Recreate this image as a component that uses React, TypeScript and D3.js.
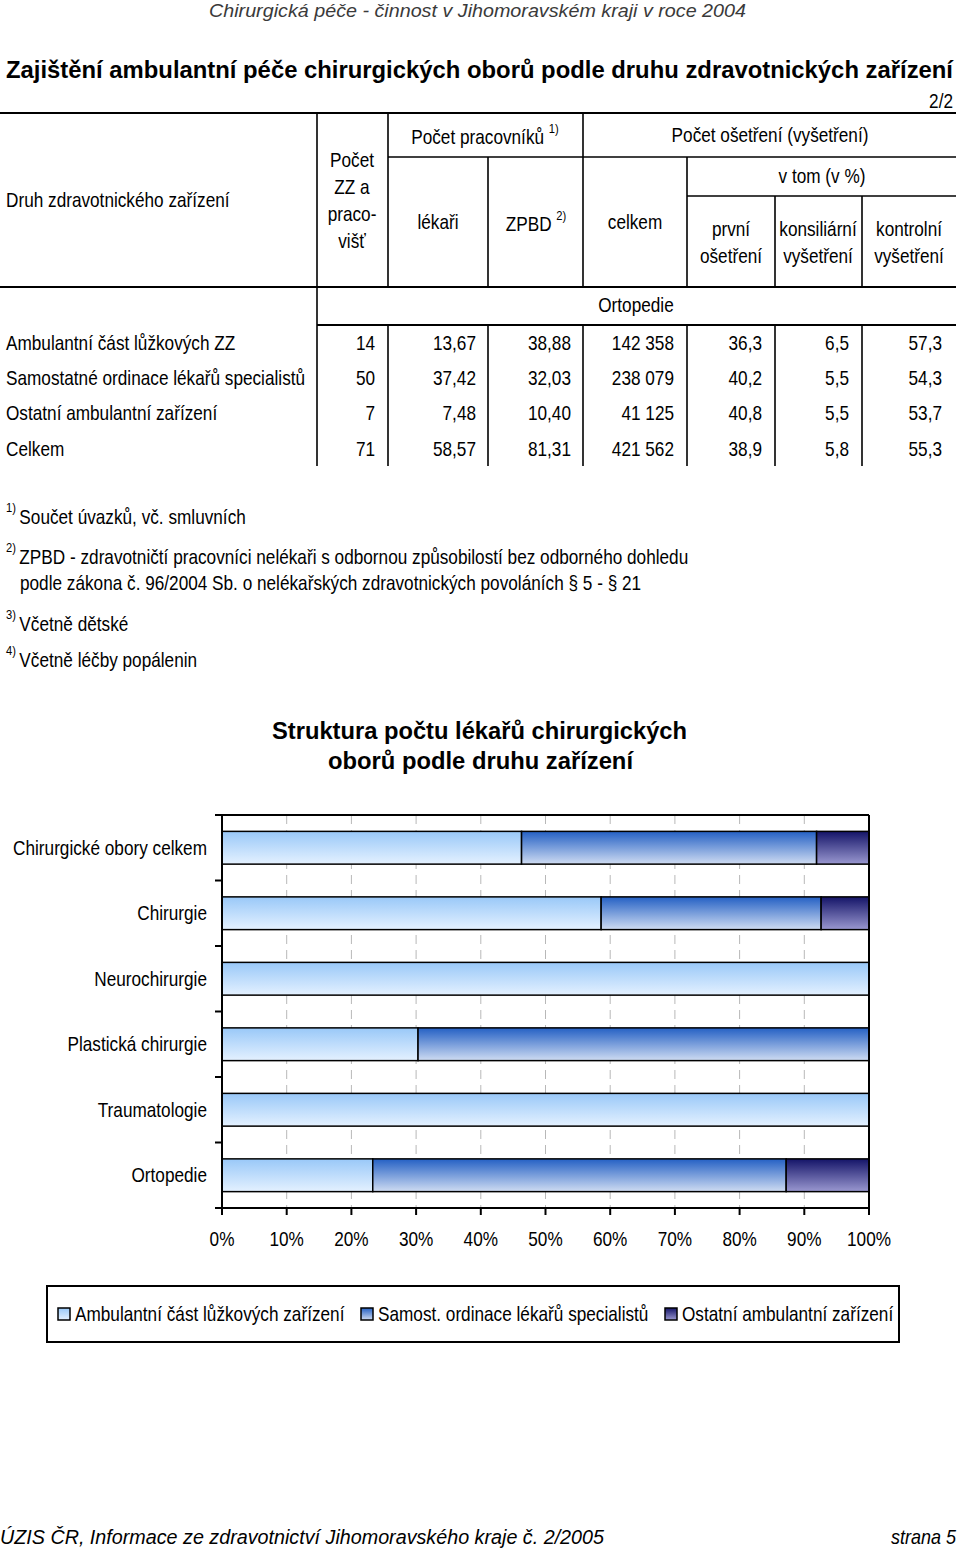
import React from "react";
import * as d3 from "d3";

const FONT = "'Liberation Sans',Arial,sans-serif";
const SX = 0.86;

// ---- Table data ----
const rowLabels = [
  "Ambulantní část lůžkových ZZ",
  "Samostatné ordinace lékařů specialistů",
  "Ostatní ambulantní zařízení",
  "Celkem",
];
const colPocetZZ = ["14", "50", "7", "71"];
const colLekari = ["13,67", "37,42", "7,48", "58,57"];
const colZPBD = ["38,88", "32,03", "10,40", "81,31"];
const colCelkem = ["142 358", "238 079", "41 125", "421 562"];
const colPrvni = ["36,3", "40,2", "40,8", "38,9"];
const colKonsil = ["6,5", "5,5", "5,5", "5,8"];
const colKontrol = ["57,3", "54,3", "53,7", "55,3"];

// ---- Chart data ----
const categories = [
  "Chirurgické obory celkem",
  "Chirurgie",
  "Neurochirurgie",
  "Plastická chirurgie",
  "Traumatologie",
  "Ortopedie",
];
const seriesNames = [
  "Ambulantní část lůžkových zařízení",
  "Samost. ordinace lékařů specialistů",
  "Ostatní ambulantní zařízení",
];
const valAmbulantni = [46.3, 58.6, 100, 30.3, 100, 23.3];
const valSamost = [45.6, 34.0, 0, 69.7, 0, 63.9];
const valOstatni = [8.1, 7.4, 0, 0, 0, 12.8];
const xTicks = [0, 10, 20, 30, 40, 50, 60, 70, 80, 90, 100];

const gradStops = [
  ["#99c8f8", "#e4f1ff"],
  ["#2460c4", "#cfdcf2"],
  ["#141468", "#9a98d0"],
];

type NP = {
  x: number;
  y: number;
  anchor?: "start" | "middle" | "end";
  size?: number;
  children?: React.ReactNode;
  [k: string]: any;
};
function N({ x, y, anchor = "start", size = 20, children, ...rest }: NP) {
  return (
    <text
      transform={`translate(${x},${y}) scale(${SX},1)`}
      textAnchor={anchor}
      fontSize={size}
      dominantBaseline="central"
      {...rest}
    >
      {children}
    </text>
  );
}

export default function App() {
  const x = d3.scaleLinear().domain([0, 100]).range([222, 869]);
  const y = d3.scaleBand<string>().domain(categories).range([815, 1208]).paddingInner(0.5).paddingOuter(0.25);
  const band = d3.scaleBand<string>().domain(categories).range([815, 1208]);
  const series = [valAmbulantni, valSamost, valOstatni];
  const stack = categories.map((c, i) => {
    let acc = 0;
    return series.map((s, k) => {
      const x0 = acc;
      acc += s[i];
      return { c, k, x0, x1: acc };
    });
  });

  const colsX = [375, 476, 571, 674, 762, 849, 942];
  const cols = [colPocetZZ, colLekari, colZPBD, colCelkem, colPrvni, colKonsil, colKontrol];
  const rowY = [343, 378, 413, 449];
  const sup = (t: string) => (
    <tspan fontSize={13} dy={-8}>{t}</tspan>
  );

  return (
    <svg width={960} height={1550} style={{ position: "absolute", left: 0, top: 0, background: "#fff" }} fontFamily={FONT}>
      <defs>
        {gradStops.map((g, i) => (
          <linearGradient key={i} id={`g${i}`} x1="0" y1="0" x2="0" y2="1">
            <stop offset="0" stopColor={g[0]} />
            <stop offset="1" stopColor={g[1]} />
          </linearGradient>
        ))}
      </defs>
      <rect x={0} y={0} width={960} height={1550} fill="#fff" />

      {/* page header */}
      <text x={209} y={17} fontSize={19} fontStyle="italic" fill="#3a3a3a" textLength={537} lengthAdjust="spacingAndGlyphs">
        Chirurgická péče - činnost v Jihomoravském kraji v roce 2004
      </text>
      <text x={6} y={78} fontSize={24} fontWeight="bold" fill="#000" textLength={947} lengthAdjust="spacingAndGlyphs">
        Zajištění ambulantní péče chirurgických oborů podle druhu zdravotnických zařízení
      </text>
      <N x={953} y={101} anchor="end">2/2</N>

      {/* table lines */}
      <g stroke="#000" fill="none">
        <line x1={0} x2={956} y1={113} y2={113} strokeWidth={2.2} />
        <line x1={0} x2={956} y1={287} y2={287} strokeWidth={2.2} />
        <line x1={388} x2={583} y1={157} y2={157} strokeWidth={1.6} />
        <line x1={583} x2={956} y1={157} y2={157} strokeWidth={1.6} />
        <line x1={687} x2={956} y1={196} y2={196} strokeWidth={1.6} />
        <line x1={317} x2={956} y1={325} y2={325} strokeWidth={2.2} />
        <line x1={317} x2={317} y1={113} y2={466} strokeWidth={1.6} />
        <line x1={388} x2={388} y1={113} y2={287} strokeWidth={1.6} />
        <line x1={488} x2={488} y1={157} y2={287} strokeWidth={1.6} />
        <line x1={583} x2={583} y1={113} y2={287} strokeWidth={1.6} />
        <line x1={687} x2={687} y1={157} y2={287} strokeWidth={1.6} />
        <line x1={775} x2={775} y1={196} y2={287} strokeWidth={1.6} />
        <line x1={862} x2={862} y1={196} y2={287} strokeWidth={1.6} />
        {[388, 488, 583, 687, 775, 862].map((vx) => (
          <line key={vx} x1={vx} x2={vx} y1={325} y2={466} strokeWidth={1.6} />
        ))}
      </g>

      {/* header texts */}
      <g fill="#000">
        <N x={6} y={200}>Druh zdravotnického zařízení</N>
        {["Počet", "ZZ a", "praco-", "višť"].map((t, i) => (
          <N key={t} x={352} y={160 + i * 27} anchor="middle">{t}</N>
        ))}
        <N x={485} y={137} anchor="middle">Počet pracovníků {sup("1)")}</N>
        <N x={438} y={222} anchor="middle">lékaři</N>
        <N x={536} y={224} anchor="middle">ZPBD {sup("2)")}</N>
        <N x={635} y={222} anchor="middle">celkem</N>
        <N x={770} y={135} anchor="middle">Počet ošetření (vyšetření)</N>
        <N x={822} y={176} anchor="middle">v tom (v %)</N>
        <N x={731} y={229} anchor="middle">první</N>
        <N x={731} y={256} anchor="middle">ošetření</N>
        <N x={818} y={229} anchor="middle">konsiliární</N>
        <N x={818} y={256} anchor="middle">vyšetření</N>
        <N x={909} y={229} anchor="middle">kontrolní</N>
        <N x={909} y={256} anchor="middle">vyšetření</N>
        <N x={636} y={305} anchor="middle">Ortopedie</N>
        {rowLabels.map((r, i) => (
          <N key={r} x={6} y={rowY[i]}>{r}</N>
        ))}
        {cols.map((col, ci) =>
          col.map((v, ri) => (
            <N key={ci + "-" + ri} x={colsX[ci]} y={rowY[ri]} anchor="end">{v}</N>
          ))
        )}
      </g>

      {/* footnotes */}
      <g fill="#000">
        <N x={6} y={516}><tspan fontSize={13} dy={-8}>1)</tspan><tspan dx={4} dy={8}>Součet úvazků, vč. smluvních</tspan></N>
        <N x={6} y={556}><tspan fontSize={13} dy={-8}>2)</tspan><tspan dx={4} dy={8}>ZPBD - zdravotničtí pracovníci nelékaři s odbornou způsobilostí bez odborného dohledu</tspan></N>
        <N x={20} y={583}>podle zákona č. 96/2004 Sb. o nelékařských zdravotnických povoláních § 5 - § 21</N>
        <N x={6} y={623}><tspan fontSize={13} dy={-8}>3)</tspan><tspan dx={4} dy={8}>Včetně dětské</tspan></N>
        <N x={6} y={659}><tspan fontSize={13} dy={-8}>4)</tspan><tspan dx={4} dy={8}>Včetně léčby popálenin</tspan></N>
      </g>

      {/* chart title */}
      <g fontSize={24} fontWeight="bold">
        <text x={272} y={739} textLength={415} lengthAdjust="spacingAndGlyphs">Struktura počtu lékařů chirurgických</text>
        <text x={328} y={769} textLength={305} lengthAdjust="spacingAndGlyphs">oborů podle druhu zařízení</text>
      </g>

      {/* gridlines */}
      <g stroke="#b8b8b8" strokeDasharray="9,6" strokeWidth={1}>
        {xTicks.slice(1, -1).map((t) => (
          <line key={t} x1={x(t)} x2={x(t)} y1={815} y2={1208} />
        ))}
      </g>

      {/* bars */}
      {stack.map((segs) =>
        segs.filter((s) => s.x1 > s.x0).map((s) => (
          <rect
            key={s.c + s.k}
            x={x(s.x0)}
            y={y(s.c)!}
            width={x(s.x1) - x(s.x0)}
            height={y.bandwidth()}
            fill={`url(#g${s.k})`}
            stroke="#000"
            strokeWidth={1.5}
          />
        ))
      )}

      {/* frame & axes */}
      <g stroke="#000" fill="none">
        <line x1={222} x2={869} y1={815} y2={815} strokeWidth={2} />
        <line x1={869} x2={869} y1={815} y2={1208} strokeWidth={2} />
        <line x1={222} x2={222} y1={815} y2={1208} strokeWidth={2} />
        <line x1={222} x2={869} y1={1208} y2={1208} strokeWidth={2} />
        {[...categories.map((c) => band(c)!), 1208].map((ty, i) => (
          <line key={i} x1={215} x2={222} y1={ty} y2={ty} strokeWidth={2} />
        ))}
        {xTicks.map((t) => (
          <line key={t} x1={x(t)} x2={x(t)} y1={1208} y2={1215} strokeWidth={2} />
        ))}
      </g>

      <g>
        {categories.map((c) => (
          <N key={c} x={207} y={y(c)! + y.bandwidth() / 2} anchor="end">{c}</N>
        ))}
        {xTicks.map((t) => (
          <N key={t} x={x(t)} y={1239} anchor="middle">{t}%</N>
        ))}
      </g>

      {/* legend */}
      <rect x={47} y={1286} width={852} height={56} fill="#fff" stroke="#000" strokeWidth={2} />
      {seriesNames.map((n, i) => {
        const lx = [58, 361, 665][i];
        return (
          <g key={n}>
            <rect x={lx} y={1308} width={12} height={12} fill={`url(#g${i})`} stroke="#000" strokeWidth={1.5} />
            <N x={lx + 17} y={1314}>{n}</N>
          </g>
        );
      })}

      {/* footer */}
      <text x={0} y={1544} fontSize={20} fontStyle="italic" textLength={604} lengthAdjust="spacingAndGlyphs">ÚZIS ČR, Informace ze zdravotnictví Jihomoravského kraje č. 2/2005</text>
      <text x={956} y={1544} fontSize={20} fontStyle="italic" textAnchor="end" transform={`translate(${956 * (1 - 0.9)},0) scale(0.9,1)`}>strana 5</text>
    </svg>
  );
}
